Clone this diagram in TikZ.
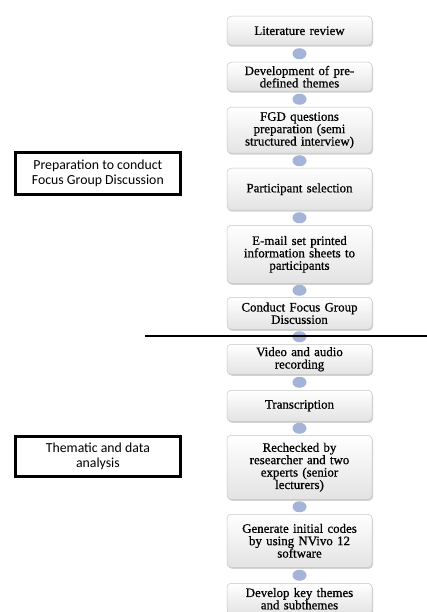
\documentclass[tikz,border=0pt]{standalone}
\usepackage{fontspec}
\setmainfont{Liberation Serif}
\newfontfamily\boxfont[FakeBold=0.7]{Liberation Serif}
\newfontfamily\carlitofont{Carlito}
\usetikzlibrary{shadows,shapes.geometric,backgrounds}
\definecolor{connblue}{HTML}{A5B3D8}
\tikzset{
  stepbox/.style={draw=gray!45, line width=0.5pt, rounded corners=4pt,
    top color=white, bottom color=gray!22, drop shadow={shadow xshift=1pt, shadow yshift=-1.5pt, opacity=0.35},
    text width=144pt, align=center, inner sep=0.5pt, anchor=north,
    font=\boxfont\fontsize{12.9}{12.4}\selectfont, minimum width=145pt},
  conn/.style={ellipse, fill=connblue, minimum width=14pt, minimum height=11pt, inner sep=0pt},
  sidebox/.style={draw=black, line width=2.8pt, minimum width=165pt, align=center,
    font=\carlitofont\fontsize{13.8}{14.3}\selectfont, anchor=north west, inner sep=2pt},
}
\begin{document}
\begin{tikzpicture}[x=1pt,y=-1pt]
\useasboundingbox (0,0) rectangle (427,612);
\node[stepbox, minimum height=29pt] (b1) at (299.5,16) {Literature review};
\node[stepbox, minimum height=29pt] (b2) at (299.5,62) {Development of pre-\\defined themes};
\node[stepbox, minimum height=46pt] (b3) at (299.5,107) {FGD questions\\preparation (semi\\structured interview)};
\node[stepbox, minimum height=42pt] (b4) at (299.5,168) {Participant selection};
\node[stepbox, minimum height=58pt] (b5) at (299.5,225) {E-mail set printed\\information sheets to\\participants};
\node[stepbox, minimum height=32pt] (b6) at (299.5,297) {Conduct Focus Group\\Discussion};
\node[stepbox, minimum height=30pt] (b7) at (299.5,344) {Video and audio\\recording};
\node[stepbox, minimum height=31pt] (b8) at (299.5,390) {Transcription};
\node[stepbox, minimum height=64pt] (b9) at (299.5,435) {Rechecked by\\researcher and two\\experts (senior\\lecturers)};
\node[stepbox, minimum height=53pt] (b10) at (299.5,514) {Generate initial codes\\by using NVivo 12\\software};
\node[stepbox, minimum height=31pt] (b11) at (299.5,583) {Develop key themes\\and subthemes};
\begin{pgfonlayer}{background}
\fill[white] (0,0) rectangle (427,612);
\foreach \a/\b in {b1/b2,b2/b3,b3/b4,b4/b5,b5/b6,b6/b7,b7/b8,b8/b9,b9/b10,b10/b11}{
  \path (\a.south) -- (\b.north) node[midway, conn] {};
}
\end{pgfonlayer}
% divider line
\coordinate (l1) at (145,336);
\coordinate (l2) at (427,336);
\draw[line width=1.2pt] (l1) -- (l2);
% side labels
\node[sidebox, minimum height=42pt] (s1) at (14,151) {Preparation to conduct\\Focus Group Discussion};
\node[sidebox, minimum height=40pt] (s2) at (14,435) {Thematic and data\\analysis};
\end{tikzpicture}
\end{document}
